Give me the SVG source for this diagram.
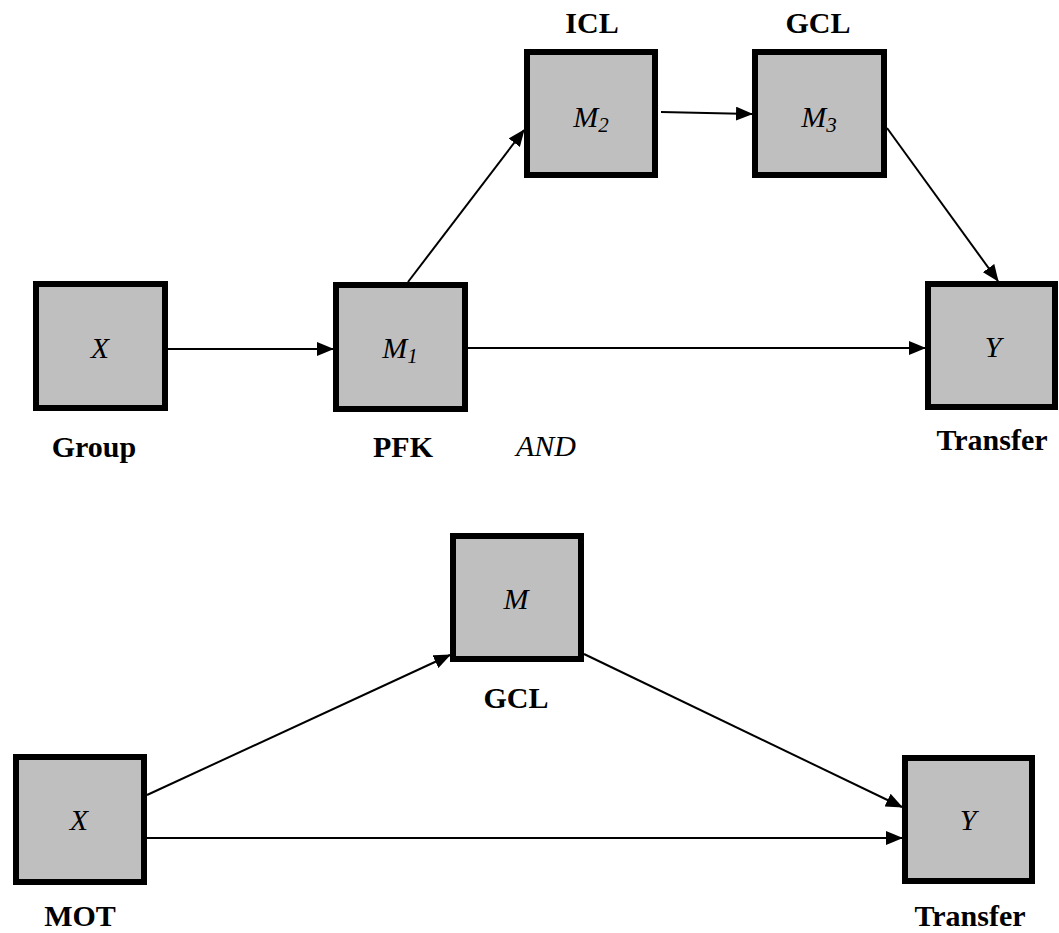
<svg xmlns="http://www.w3.org/2000/svg" width="1059" height="933" viewBox="0 0 1059 933">
<defs>
<marker id="ah" markerUnits="userSpaceOnUse" markerWidth="17" markerHeight="14" refX="16" refY="7" orient="auto">
<path d="M0,0 L17,7 L0,14 z" fill="#000"/>
</marker>
<style>
.box{fill:#bfbfbf;stroke:#000;stroke-width:6}
.var{font-family:"Liberation Serif","Times New Roman",serif;font-style:italic;font-size:30px;fill:#000;text-anchor:middle}
.sub{font-size:21px}
.lbl{font-family:"Liberation Serif","Times New Roman",serif;font-weight:bold;font-size:30px;fill:#000;text-anchor:middle}
.conn{stroke:#000;stroke-width:2;fill:none;marker-end:url(#ah)}
</style>
</defs>
<rect width="1059" height="933" fill="#fff"/>
<g id="connectors">
<line class="conn" x1="168" y1="349" x2="333" y2="349"/>
<line class="conn" x1="408" y1="282" x2="524" y2="130"/>
<line class="conn" x1="661" y1="112" x2="752" y2="114"/>
<line class="conn" x1="887" y1="128" x2="998" y2="281"/>
<line class="conn" x1="468" y1="348" x2="925" y2="348"/>
<line class="conn" x1="147" y1="795" x2="450" y2="655"/>
<line class="conn" x1="584" y1="654" x2="902" y2="807"/>
<line class="conn" x1="147" y1="838" x2="902" y2="838"/>
</g>
<g id="node-x1">
<rect class="box" x="36" y="284" width="129" height="124"/>
<text class="var" x="100" y="358">X</text>
<text class="lbl" x="94" y="457">Group</text>
</g>
<g id="node-m1">
<rect class="box" x="336" y="285" width="129" height="124"/>
<text class="var" x="400" y="358">M<tspan class="sub" dy="5">1</tspan></text>
<text class="lbl" x="403" y="457">PFK</text>
</g>
<g id="node-m2">
<rect class="box" x="527" y="52" width="128" height="123"/>
<text class="var" x="591" y="127">M<tspan class="sub" dy="5">2</tspan></text>
<text class="lbl" x="592" y="33">ICL</text>
</g>
<g id="node-m3">
<rect class="box" x="755" y="52" width="129" height="123"/>
<text class="var" x="819" y="127">M<tspan class="sub" dy="5">3</tspan></text>
<text class="lbl" x="818" y="33">GCL</text>
</g>
<g id="node-y1">
<rect class="box" x="928" y="284" width="127" height="123"/>
<text class="var" x="993" y="357">Y</text>
<text class="lbl" x="992" y="450">Transfer</text>
</g>
<g id="and-label">
<text class="var" x="546" y="456">AND</text>
</g>
<g id="node-m">
<rect class="box" x="453" y="536" width="128" height="123"/>
<text class="var" x="516" y="609">M</text>
<text class="lbl" x="516" y="708">GCL</text>
</g>
<g id="node-x2">
<rect class="box" x="16" y="757" width="128" height="125"/>
<text class="var" x="79" y="830">X</text>
<text class="lbl" x="80" y="926">MOT</text>
</g>
<g id="node-y2">
<rect class="box" x="905" y="758" width="127" height="123"/>
<text class="var" x="968" y="830">Y</text>
<text class="lbl" x="970" y="926">Transfer</text>
</g>
</svg>
